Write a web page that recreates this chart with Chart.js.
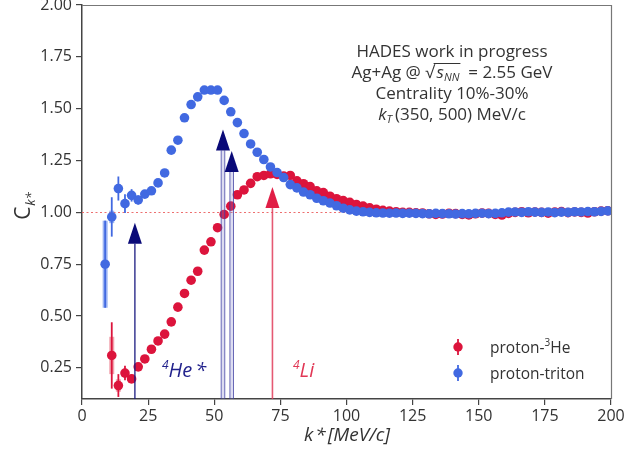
<!DOCTYPE html>
<html><head><meta charset="utf-8">
<script src="https://cdn.jsdelivr.net/npm/chart.js@4.4.1/dist/chart.umd.min.js"></script>
<style>html,body{margin:0;padding:0;background:#fff}#wrap{width:627px;height:455px;position:relative}</style>
</head><body><div id="wrap"><canvas id="c" width="627" height="455"></canvas></div>
<script>
// ---- data ----
const kStar = [8.75,11.25,13.75,16.25,18.75,21.25,23.75,26.25,28.75,31.25,33.75,36.25,38.75,41.25,43.75,46.25,48.75,51.25,53.75,56.25,58.75,61.25,63.75,66.25,68.75,71.25,73.75,76.25,78.75,81.25,83.75,86.25,88.75,91.25,93.75,96.25,98.75,101.25,103.75,106.25,108.75,111.25,113.75,116.25,118.75,121.25,123.75,126.25,128.75,131.25,133.75,136.25,138.75,141.25,143.75,146.25,148.75,151.25,153.75,156.25,158.75,161.25,163.75,166.25,168.75,171.25,173.75,176.25,178.75,181.25,183.75,186.25,188.75,191.25,193.75,196.25,198.75];

const protonHe3 = [null,0.31,0.165,0.225,0.197,0.255,0.293,0.34,0.38,0.413,0.472,0.543,0.609,0.673,0.716,0.818,0.858,0.926,0.99,1.03,
 1.085,1.108,1.14,1.172,1.178,1.186,1.183,1.175,1.178,1.152,1.138,1.124,1.104,1.095,1.078,1.066,1.057,1.048,1.038,1.03,
 1.022,1.015,1.01,1.006,1.003,1.0,
 1.0,0.998,0.997,0.993,0.99,0.992,0.996,0.994,0.99,0.988,0.993,0.997,0.995,0.99,0.987,0.995,1.0,1.003,0.998,1.002,1.0,0.996,1.001,1.004,0.999,1.002,1.0,0.997,1.003,1.006,1.008];
const protonHe3Stat = [null,0.16,0.055,0.035,0.02,0.015,0.012,0.01];
const protonHe3Sys  = [null,0.09,0.03,0.015];

const protonTriton = [0.75,0.978,1.115,1.042,1.082,1.06,1.088,1.104,1.142,1.19,1.30,1.348,1.456,1.52,1.557,1.59,1.59,1.59,1.54,1.485,
 1.433,1.38,1.33,1.29,1.255,1.219,1.192,1.168,1.134,1.118,1.098,1.085,1.068,1.056,1.045,1.032,1.02,1.012,1.006,1.003,1.0,0.998,
 0.997,0.996,0.997,0.995,0.996,0.995,0.994,0.993,0.995,0.994,0.993,0.992,0.994,0.993,0.995,0.996,0.994,0.995,0.998,1.001,
 1.002,1.0,1.003,1.001,1.0,1.002,0.999,1.001,1.0,1.003,1.002,1.004,1.003,1.005,1.007];
const protonTritonStat = [0.21,0.095,0.058,0.045,0.03,0.022,0.016,0.012,0.01,0.01];
const protonTritonSys  = [0.21,0.03,0.02];

const xTickValues = [0,25,50,75,100,125,150,175,200];
const yTickValues = [0.25,0.5,0.75,1.0,1.25,1.5,1.75,2.0];

// resonance arrows: k* position and arrow tip (C value)
const arrowK   = [20, 53.3, 56.6, 72];
const arrowTip = [0.95, 1.40, 1.296, 1.122];

const seriesNames = ['proton-', 'proton-triton'];

// ---- styles ----
const RED = 'rgb(220,20,60)';
const BLUE = 'rgb(65,105,225)';
const FONT = '"Open Sans", "DejaVu Sans", sans-serif';
const TXT = '#333';

function drawRuns(ctx, runs, x, y, align) {
  let w = 0;
  runs.forEach(r => { ctx.font = r.font; r.w = ctx.measureText(r.t).width; w += r.w + (r.gap||0); });
  let cx = align === 'center' ? x - w/2 : x;
  runs.forEach(r => {
    ctx.font = r.font; ctx.fillStyle = r.color || TXT;
    ctx.fillText(r.t, cx, y + (r.dy||0));
    r.x0 = cx;
    cx += r.w + (r.gap||0);
  });
  return runs;
}

const customPlugin = {
  id: 'custom',
  beforeDatasetsDraw(chart) {
    const {ctx, scales: {x, y}} = chart;
    ctx.save();
    ctx.strokeStyle = 'rgba(235,95,95,0.9)';
    ctx.lineWidth = 1;
    ctx.setLineDash([2, 2.5]);
    const y1 = Math.round(y.getPixelForValue(1)) + 0.5;
    ctx.beginPath(); ctx.moveTo(x.left, y1); ctx.lineTo(x.right, y1); ctx.stroke();
    ctx.setLineDash([]);
    const sets = [
      [protonHe3, protonHe3Stat, protonHe3Sys, 'rgba(220,20,60,1)', 'rgba(230,90,110,0.55)'],
      [protonTriton, protonTritonStat, protonTritonSys, 'rgba(65,105,225,1)', 'rgba(90,130,235,0.6)']
    ];
    sets.forEach(([vals, stat, sys, c1, c2]) => {
      vals.forEach((v, i) => {
        if (v == null) return;
        const px = x.getPixelForValue(kStar[i]);
        if (sys[i]) {
          ctx.strokeStyle = c2; ctx.lineWidth = 5;
          ctx.beginPath(); ctx.moveTo(px, y.getPixelForValue(v - sys[i])); ctx.lineTo(px, y.getPixelForValue(v + sys[i])); ctx.stroke();
        }
        if (stat[i]) {
          ctx.strokeStyle = c1; ctx.lineWidth = 1.8;
          ctx.beginPath(); ctx.moveTo(px, y.getPixelForValue(v - stat[i])); ctx.lineTo(px, y.getPixelForValue(v + stat[i])); ctx.stroke();
        }
      });
    });
    ctx.restore();
  },
  afterDatasetsDraw(chart) {
    const {ctx, scales: {x, y}} = chart;
    ctx.save();
    const yBot = y.bottom;
    const headW = 14, headH = 21;
    arrowK.forEach((k, i) => {
      const px = x.getPixelForValue(k);
      const pt = y.getPixelForValue(arrowTip[i]);
      let col, shaft;
      if (i === 0) { col = '#0a0a78'; shaft = 'line'; }
      else if (i < 3) { col = '#0a0a78'; shaft = 'box'; }
      else { col = 'rgb(225,30,70)'; shaft = 'red'; }
      if (shaft === 'line') {
        ctx.strokeStyle = '#1a1a80'; ctx.lineWidth = 1.3;
        ctx.beginPath(); ctx.moveTo(px, yBot); ctx.lineTo(px, pt + headH); ctx.stroke();
      } else if (shaft === 'box') {
        ctx.fillStyle = 'rgba(120,120,200,0.25)';
        ctx.fillRect(px - 1.8, pt + headH, 3.6, yBot - pt - headH);
        ctx.strokeStyle = 'rgba(60,60,160,0.75)'; ctx.lineWidth = 1;
        ctx.beginPath();
        ctx.moveTo(px - 1.8, yBot); ctx.lineTo(px - 1.8, pt + headH);
        ctx.moveTo(px + 1.8, yBot); ctx.lineTo(px + 1.8, pt + headH);
        ctx.stroke();
      } else {
        ctx.strokeStyle = 'rgba(225,60,90,0.85)'; ctx.lineWidth = 1.6;
        ctx.beginPath(); ctx.moveTo(px, yBot); ctx.lineTo(px, pt + headH); ctx.stroke();
      }
      ctx.fillStyle = col;
      ctx.beginPath();
      ctx.moveTo(px, pt); ctx.lineTo(px - headW/2, pt + headH); ctx.lineTo(px + headW/2, pt + headH); ctx.closePath();
      ctx.fill();
    });
    ctx.restore();
  },
  afterDraw(chart) {
    const {ctx, chartArea: ca} = chart;
    ctx.save();
    ctx.strokeStyle = '#777'; ctx.lineWidth = 1.2;
    ctx.beginPath();
    ctx.moveTo(ca.left, ca.top + 0.5); ctx.lineTo(ca.right + 0.5, ca.top + 0.5); ctx.lineTo(ca.right + 0.5, ca.bottom);
    ctx.stroke();
    ctx.textBaseline = 'alphabetic';
    const cx = 452;
    const f = '17px ' + FONT, fi = 'italic 17px ' + FONT, fs = 'italic 11px ' + FONT;
    drawRuns(ctx, [{t: 'HADES work in progress', font: f}], cx, 57, 'center');
    const r2 = drawRuns(ctx, [
      {t: 'Ag+Ag @ ', font: f},
      {t: '\u221A', font: f, gap: 2},
      {t: 's', font: fi},
      {t: 'NN', font: fs, dy: 3},
      {t: '  = 2.55 GeV', font: f}
    ], cx, 78, 'center');
    ctx.strokeStyle = TXT; ctx.lineWidth = 1;
    ctx.beginPath();
    ctx.moveTo(r2[1].x0 + r2[1].w - 1, 63.5);
    ctx.lineTo(r2[3].x0 + r2[3].w + 1, 63.5);
    ctx.stroke();
    drawRuns(ctx, [{t: 'Centrality 10%-30%', font: f}], cx, 99, 'center');
    drawRuns(ctx, [
      {t: 'k', font: fi},
      {t: 'T', font: fs, dy: 3, gap: 3},
      {t: '(350, 500) MeV/c', font: f}
    ], cx, 120, 'center');
    drawRuns(ctx, [
      {t: '4', font: 'italic 12px ' + FONT, dy: -8, color: '#22228c'},
      {t: 'He', font: 'italic 20px ' + FONT, color: '#22228c', gap: 3},
      {t: '*', font: 'italic 20px ' + FONT, color: '#22228c'}
    ], 162, 377, 'left');
    drawRuns(ctx, [
      {t: '4', font: 'italic 12px ' + FONT, dy: -8, color: 'rgb(225,55,85)'},
      {t: 'Li', font: 'italic 20px ' + FONT, color: 'rgb(225,55,85)'}
    ], 293, 377, 'left');
    const lg = [[RED, 347], [BLUE, 373]];
    lg.forEach(([c, yy]) => {
      ctx.strokeStyle = c; ctx.lineWidth = 1.8;
      ctx.beginPath(); ctx.moveTo(458, yy - 8); ctx.lineTo(458, yy + 8); ctx.stroke();
      ctx.fillStyle = c;
      ctx.beginPath(); ctx.arc(458, yy, 4.7, 0, Math.PI * 2); ctx.fill();
    });
    const lf = '15.5px ' + FONT;
    drawRuns(ctx, [{t: seriesNames[0], font: lf}, {t: '3', font: '10px ' + FONT, dy: -7}, {t: 'He', font: lf}], 490, 353, 'left');
    drawRuns(ctx, [{t: seriesNames[1], font: lf}], 490, 379, 'left');
    drawRuns(ctx, [{t: 'k', font: 'italic 19px ' + FONT, gap: 2}, {t: '*', font: 'italic 19px ' + FONT, gap: 2}, {t: '[MeV/c]', font: 'italic 19px ' + FONT}], 347, 441, 'center');
    ctx.translate(30, 206);
    ctx.rotate(-Math.PI / 2);
    drawRuns(ctx, [{t: 'C', font: '21px ' + FONT, gap: 1}, {t: 'k*', font: 'italic 13px ' + FONT, dy: 5}], 0, 0, 'center');
    ctx.restore();
  }
};

const ptsRed = kStar.map((k, i) => ({x: k, y: protonHe3[i]})).filter(p => p.y != null);
const ptsBlue = kStar.map((k, i) => ({x: k, y: protonTriton[i]}));

new Chart(document.getElementById('c'), {
  type: 'scatter',
  data: {
    datasets: [
      {label: 'proton-triton', data: ptsBlue, backgroundColor: BLUE, borderWidth: 0, pointRadius: 4.8, pointHoverRadius: 4.8},
      {label: 'proton-3He', data: ptsRed, backgroundColor: RED, borderWidth: 0, pointRadius: 4.8, pointHoverRadius: 4.8}
    ]
  },
  options: {
    responsive: false,
    animation: false,
    devicePixelRatio: 1,
    layout: {padding: {left: 0, right: 16, top: 5, bottom: 0}},
    plugins: {legend: {display: false}, tooltip: {enabled: false}},
    events: [],
    scales: {
      x: {
        type: 'linear', min: 0, max: 200,
        afterBuildTicks: s => { s.ticks = xTickValues.map(v => ({value: v})); },
        afterFit: s => { s.height = 56; s.paddingLeft = 0; s.paddingRight = 0; },
        ticks: {font: {family: FONT, size: 16}, color: TXT, padding: 2, maxRotation: 0, autoSkip: false, callback: v => String(v)},
        grid: {drawOnChartArea: false, tickLength: 6, color: '#444', lineWidth: 1.2},
        border: {color: '#444', width: 1.5}
      },
      y: {
        type: 'linear', min: 0.1, max: 2.0,
        afterBuildTicks: s => { s.ticks = yTickValues.map(v => ({value: v})); },
        afterFit: s => { s.width = 82; s.paddingTop = 0; s.paddingBottom = 0; },
        ticks: {font: {family: FONT, size: 16}, color: TXT, padding: 4, callback: v => Number(v).toFixed(2)},
        grid: {drawOnChartArea: false, tickLength: 6, color: '#444', lineWidth: 1.2},
        border: {color: '#444', width: 1.5}
      }
    }
  },
  plugins: [customPlugin]
});
</script>
</body></html>
